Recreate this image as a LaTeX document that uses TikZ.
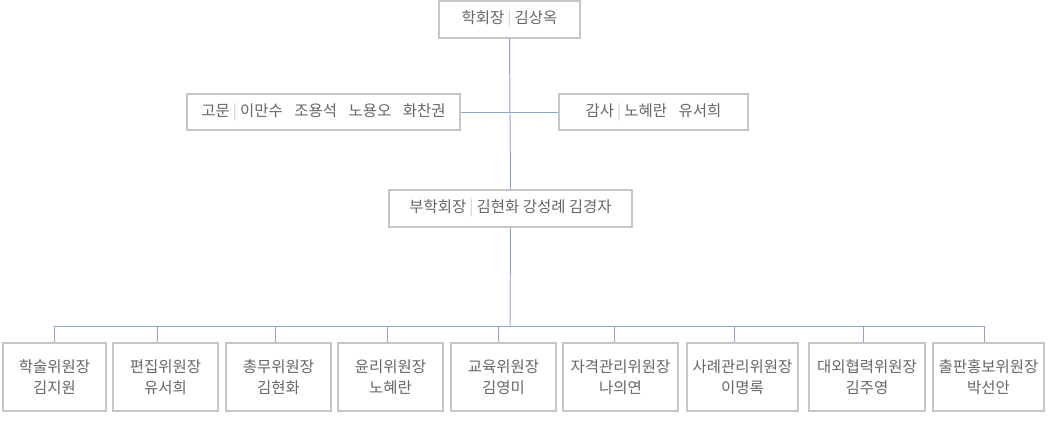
\documentclass[tikz,border=0pt]{standalone}
\usepackage{fontspec}
\setmainfont{Noto Sans CJK KR}
\usetikzlibrary{positioning}
\definecolor{boxline}{HTML}{C6C6C6}
\definecolor{wirecol}{HTML}{8EA3CC}
\definecolor{txtcol}{HTML}{666666}
\definecolor{sepcol}{HTML}{CFCFCF}
\newcommand{\vsep}{\hspace{0.2em}\textcolor{sepcol}{|}\hspace{0.2em}}

\begin{document}
\begin{tikzpicture}[x=0.025cm,y=-0.025cm,
  box/.style={draw=boxline,line width=0.8pt,text=txtcol,inner sep=0pt,
    font=\fontsize{11}{14.6}\selectfont,align=center},
  wire/.style={draw=wirecol,line width=0.7pt}]
  \useasboundingbox (0,0) rectangle (1048,444);

  % president, advisors, auditors, vice presidents
  \node[box,minimum width=3.525cm,minimum height=0.925cm] (pres) at (509.5,19.5) {학회장\vsep 김상옥};
  \node[box,minimum width=6.825cm,minimum height=0.9cm] (advisor) at (323.5,112) {고문\vsep 이만수\hspace{0.75em}조용석\hspace{0.75em}노용오\hspace{0.75em}화찬권};
  \node[box,minimum width=4.725cm,minimum height=0.9cm] (auditor) at (653.5,112) {감사\vsep 노혜란\hspace{0.75em}유서희};
  \node[box,minimum width=6.075cm,minimum height=0.925cm] (vice) at (510.5,208.5) {부학회장\vsep 김현화 강성례 김경자};

  % committee chairs (\o = offset of the drop line)
  \foreach \n/\l/\r/\o/\a/\b in {1/3/106/0/학술위원장/김지원,2/113/218/-8/편집위원장/유서희,
      3/226/331/-3/총무위원장/김현화,4/338/443/-3/윤리위원장/노혜란,5/451/556/-5/교육위원장/김영미,
      6/563/678/-6/자격관리위원장/나의연,7/687/798/-8/사례관리위원장/이명록,
      8/809/925/-4/대외협력위원장/김주영,9/933/1044/-4/출판홍보위원장/박선안}{
    \pgfmathsetmacro\w{(\r-\l)*0.025}
    \node[box,minimum width=\w cm,minimum height=1.7cm] (c\n) at ({(\l+\r)/2},377) {\a\\\b};
    \coordinate (d\n) at ([xshift=\o*0.025cm]c\n.north);
  }

  % connectors
  \coordinate (bus) at (510,326);
  \draw[wire] (pres.south) -- (vice.north);
  \draw[wire] (advisor.east) -- (auditor.west);
  \draw[wire] (vice.south) -- (bus);
  \draw[wire] (d1 |- bus) -- (d9 |- bus);
  \foreach \n in {1,...,9}
    \draw[wire] (d\n |- bus) -- (d\n);
\end{tikzpicture}
\end{document}
